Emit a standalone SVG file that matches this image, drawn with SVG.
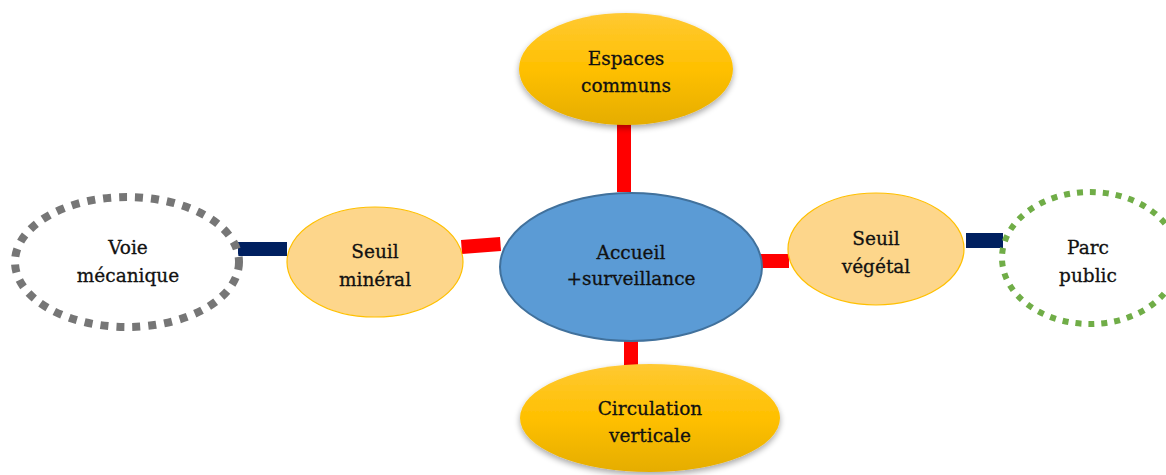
<svg xmlns="http://www.w3.org/2000/svg" width="1166" height="475" viewBox="0 0 1166 475">
  <defs>
    <linearGradient id="gold" x1="0" y1="0" x2="0" y2="1">
      <stop offset="0" stop-color="#FFC933"/>
      <stop offset="0.5" stop-color="#FFC000"/>
      <stop offset="1" stop-color="#E5AD00"/>
    </linearGradient>
    <filter id="shadow" x="-20%" y="-20%" width="140%" height="150%">
      <feGaussianBlur in="SourceAlpha" stdDeviation="3"/>
      <feOffset dx="0" dy="3" result="b"/>
      <feComponentTransfer><feFuncA type="linear" slope="0.35"/></feComponentTransfer>
      <feMerge><feMergeNode/><feMergeNode in="SourceGraphic"/></feMerge>
    </filter>
    <style>
      .gold { fill: url(#gold); filter: url(#shadow); }
      .pale { fill: #FDD68B; stroke: #FFC000; stroke-width: 1.2; }
      .hub { fill: #5B9BD5; stroke: #41719C; stroke-width: 2; }
      .red { fill: #FF0000; }
      .navy { fill: #002060; }
      text { font-family: "DejaVu Serif", "Liberation Serif", serif; font-size: 18.5px; fill: #111; text-anchor: middle; stroke: #111; stroke-width: 0.3; }
    </style>
  </defs>

  <!-- connectors -->
  <g id="connectors">
    <rect class="red" x="617" y="122" width="14" height="70"/>
    <rect class="red" x="624" y="338" width="14" height="32"/>
    <polygon class="red" points="461,240 500,237 501,251 462,254"/>
    <rect class="red" x="760" y="254" width="29" height="14"/>
    <rect class="navy" x="238" y="242" width="49" height="14"/>
    <rect class="navy" x="966" y="233" width="37" height="15"/>
  </g>

  <g id="espaces-communs">
    <ellipse class="gold" cx="626" cy="69" rx="107" ry="56"/>
    <text x="626" y="65">Espaces</text>
    <text x="626" y="92">communs</text>
  </g>

  <g id="circulation-verticale">
    <ellipse class="gold" cx="650" cy="418" rx="130" ry="54"/>
    <text x="650" y="415">Circulation</text>
    <text x="650" y="442">verticale</text>
  </g>

  <g id="accueil">
    <ellipse class="hub" cx="631" cy="267" rx="131" ry="74"/>
    <text x="631" y="259">Accueil</text>
    <text x="631" y="285">+surveillance</text>
  </g>

  <g id="seuil-mineral">
    <ellipse class="pale" cx="375" cy="262" rx="88" ry="55"/>
    <text x="375" y="258">Seuil</text>
    <text x="375" y="286">minéral</text>
  </g>

  <g id="seuil-vegetal">
    <ellipse class="pale" cx="876" cy="249" rx="88" ry="56"/>
    <text x="876" y="245">Seuil</text>
    <text x="876" y="273">végétal</text>
  </g>

  <g id="voie-mecanique">
    <ellipse cx="127" cy="262" rx="112" ry="65" fill="#fff" stroke="#767676" stroke-width="8" stroke-dasharray="8 8"/>
    <text x="128" y="254">Voie</text>
    <text x="128" y="282">mécanique</text>
  </g>

  <g id="parc-public">
    <ellipse cx="1090" cy="258" rx="88" ry="66" fill="#fff" stroke="#70AD47" stroke-width="6" stroke-dasharray="6 7"/>
    <text x="1088" y="254">Parc</text>
    <text x="1088" y="282">public</text>
  </g>
</svg>
